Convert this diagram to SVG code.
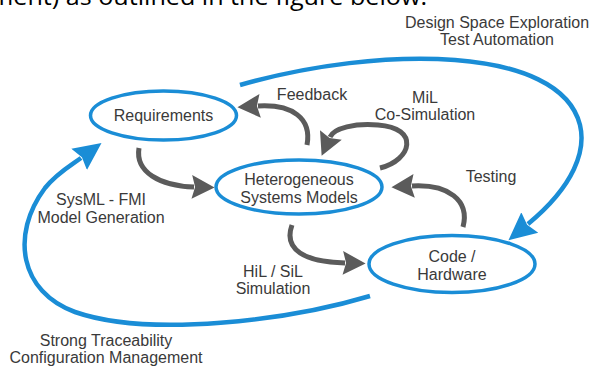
<svg xmlns="http://www.w3.org/2000/svg" width="590" height="367" viewBox="0 0 590 367">
  <style>
    .node { fill: #ffffff; stroke: #1a8dd6; stroke-width: 3.5; }
    .lbl { font-family: "Liberation Sans", Arial, sans-serif; font-size: 16px; fill: #3a3a3a; text-anchor: middle; }
    .grey { fill: none; stroke: #5b5b5b; stroke-width: 5; stroke-linecap: butt; }
    .blue { fill: none; stroke: #1a8dd6; stroke-width: 4.5; stroke-linecap: butt; }
    .head { font-family: "Open Sans", "Liberation Sans", sans-serif; font-size: 23px; fill: #000000; }
  </style>
  <defs>
    <marker id="ag" markerUnits="userSpaceOnUse" markerWidth="26" markerHeight="26" viewBox="0 -12 22 24" refX="2" refY="0" orient="auto">
      <path d="M0,-11 L21,0 L0,11 L3,0 z" fill="#5b5b5b"/>
    </marker>
    <marker id="ab" markerUnits="userSpaceOnUse" markerWidth="30" markerHeight="30" viewBox="0 -13 26 26" refX="2" refY="0" orient="auto">
      <path d="M0,-11.5 L24,0 L0,11.5 L3,0 z" fill="#1a8dd6"/>
    </marker>
  </defs>
  <rect width="590" height="367" fill="#ffffff"/>

  <text class="head" x="-10" y="5" textLength="437" lengthAdjust="spacingAndGlyphs">ment) as outlined in the figure below.</text>

  <g id="connectors">
    <path class="blue" d="M 240 85 C 380 45, 560 45, 580 125 C 586 150, 575 185, 528 224" marker-end="url(#ab)"/>
    <path class="blue" d="M 370 296 C 290 320, 150 338, 75 312 C 20 292, 10 235, 45 188 C 57 173, 70 166, 81 158" marker-end="url(#ab)"/>
    <path class="grey" d="M 139 148 C 135 172, 160 186, 194 187" marker-end="url(#ag)"/>
    <path class="grey" d="M 307 145 C 312 118, 292 104, 258 106" marker-end="url(#ag)"/>
    <path class="grey" d="M 380 168 C 412 160, 420 128, 378 125 C 355 123, 334 128, 330 137" marker-end="url(#ag)"/>
    <path class="grey" d="M 463 227 C 470 200, 448 184, 412 186" marker-end="url(#ag)"/>
    <path class="grey" d="M 292 225 C 283 250, 305 262, 345 263" marker-end="url(#ag)"/>
  </g>

  <g id="requirements">
    <ellipse class="node" cx="163.5" cy="115.5" rx="73" ry="24.5"/>
    <text class="lbl" x="163.5" y="121">Requirements</text>
  </g>
  <g id="heterogeneous">
    <ellipse class="node" cx="299" cy="187" rx="83" ry="27"/>
    <text class="lbl" x="299" y="185">Heterogeneous</text>
    <text class="lbl" x="299" y="203">Systems Models</text>
  </g>
  <g id="code-hardware">
    <ellipse class="node" cx="452" cy="264" rx="83" ry="28.5"/>
    <text class="lbl" x="452" y="262">Code /</text>
    <text class="lbl" x="452" y="280">Hardware</text>
  </g>

  <g id="labels">
    <text class="lbl" x="497" y="28">Design Space Exploration</text>
    <text class="lbl" x="497" y="45">Test Automation</text>
    <text class="lbl" x="312" y="100">Feedback</text>
    <text class="lbl" x="425" y="103">MiL</text>
    <text class="lbl" x="425" y="120">Co-Simulation</text>
    <text class="lbl" x="491" y="182">Testing</text>
    <text class="lbl" x="101" y="205">SysML - FMI</text>
    <text class="lbl" x="101" y="223">Model Generation</text>
    <text class="lbl" x="273" y="277">HiL / SiL</text>
    <text class="lbl" x="273" y="294">Simulation</text>
    <text class="lbl" x="106" y="346">Strong Traceability</text>
    <text class="lbl" x="106" y="363">Configuration Management</text>
  </g>
</svg>
